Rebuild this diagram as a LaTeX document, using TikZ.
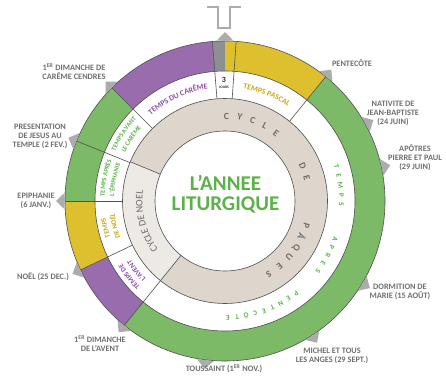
\documentclass[tikz,border=0pt]{standalone}
\usepackage{fontspec}
\setmainfont{Carlito}
\usetikzlibrary{decorations.text}
\definecolor{cpurple}{RGB}{153,108,173}
\definecolor{cgreen}{RGB}{125,186,104}
\definecolor{cyellow}{RGB}{222,191,46}
\definecolor{cgrayseg}{RGB}{142,143,146}
\definecolor{cbeige}{RGB}{222,214,204}
\definecolor{clbeige}{RGB}{237,233,229}
\definecolor{cline}{RGB}{80,80,80}
\definecolor{tpurple}{RGB}{140,78,166}
\definecolor{tgreen}{RGB}{92,178,72}
\definecolor{tgold}{RGB}{204,168,28}
\definecolor{tgray}{RGB}{112,112,112}
\definecolor{cmark}{RGB}{172,172,172}
\definecolor{tcycle}{RGB}{108,108,108}
\newcommand\ringsect[5]{\fill[#1] (#2:#4) arc[start angle=#2,end angle=#3,radius=#4] -- (#3:#5) arc[start angle=#3,end angle=#2,radius=#5] -- cycle;}
\newcommand\arctext[6]{\path[decorate,decoration={text along path,text align=center,text color=#1,text={|\fontsize{#2}{#2}\selectfont\bfseries|#6}}] (#3:#5) arc[start angle=#3,end angle=#4,radius=#5];}
\begin{document}
\begin{tikzpicture}[x=1pt,y=1pt,
  lbl/.style={text=tgray,font=\fontsize{8.3}{9}\selectfont\bfseries,align=center,inner sep=0pt},
  ring/.style={draw=cline,line width=0.6pt},
  sep/.style={draw=cline,line width=0.6pt},
  cyc/.style={text=tcycle,font=\fontsize{9.5}{9.5}\selectfont\bfseries,inner sep=0pt},
  tap/.style={text=tgreen,font=\fontsize{7.2}{7.2}\selectfont\bfseries,inner sep=0pt},
  title/.style={text=tgreen,font=\fontsize{21}{21}\selectfont\bfseries,inner sep=0pt}]
\useasboundingbox (0,0) rectangle (446,381);
\fill[white] (0,0) rectangle (446,381);
\begin{scope}[shift={(225,180)}]
  % outer ring
  \ringsect{cgrayseg}{94.5}{90}{160}{130}
  \ringsect{cyellow}{90}{51}{160}{130}
  \ringsect{cgreen}{51}{-129}{160}{130}
  \ringsect{cpurple}{-129}{-154.5}{160}{130}
  \ringsect{cyellow}{-154.5}{-180}{160}{130}
  \ringsect{cgreen}{180}{135}{160}{130}
  \ringsect{cpurple}{135}{94.5}{160}{130}
  % beige ring
  \fill[cbeige,even odd rule] (0,0) circle[radius=102.5] (0,0) circle[radius=70];
  \ringsect{clbeige}{231}{157.5}{102.5}{70}
  % circles
  \foreach \r in {160,130,102.5,70} \draw[ring] (0,0) circle[radius=\r];
  % separators
  \foreach \a in {135,158,180,205.5,231,51,94.5,86} \draw[sep] (\a:102.5) -- (\a:160);
  \foreach \a in {157.5,231} \draw[sep] (\a:70) -- (\a:102.5);
  % markers
  \foreach \a in {90,51,28.6,12.2,-31,-57,-97,231,205.5,180,158,135}
    \fill[cmark] (\a+3:160.5) -- (\a:169) -- (\a-3:160.5) -- cycle;
  % cycle de paques
  \foreach \a/\c [count=\i] in {89/C,80/Y,71/C,62/L,53/E,24/D,16/E,-17/P,-25/Â,-33/Q,-41/U,-50/E,-59/S}
    \node[cyc,rotate=\a-90] (cp\i) at (\a:85) {\c};
  % temps apres pentecote
  \foreach \a/\c [count=\i] in {17/T,12.3/E,7.6/M,2.9/P,-1.8/S,-19/A,-23.5/P,-28/R,-32.5/E,-37/S,-52.5/P,-57/E,-61.5/N,-66/T,-70.5/E,-75/C,-79.5/Ô,-84/T,-88.5/E}
    \node[tap,rotate=\a-90] (tp\i) at (\a:116.5) {\c};
  % section texts
  \arctext{tpurple}{7.8}{135}{94.5}{113.5}{TEMPS DU CARÊME}
  \arctext{tgold}{7.8}{86}{51}{113.5}{TEMPS PASCAL}
  \arctext{tgreen}{6.4}{158}{135}{120.5}{TEMPS AVANT}
  \arctext{tgreen}{6.4}{158}{135}{111}{LE CARÊME}
  \arctext{tgreen}{6.4}{180}{158}{120.5}{TEMPS APRÈS}
  \arctext{tgreen}{6.4}{180}{158}{111}{L'ÉPIPHANIE}
  \arctext{tgold}{7}{205.5}{180}{120.5}{TEMPS}
  \arctext{tgold}{7}{205.5}{180}{111}{DE NOËL}
  \arctext{tpurple}{7}{231}{205.5}{120.5}{TEMPS DE}
  \arctext{tpurple}{7}{231}{205.5}{111}{L'AVENT}
  \path[decorate,decoration={text along path,text align=center,text color=tcycle,text={|\fontsize{10}{10}\selectfont|CYCLE DE NOEL}}] (231:82.5) arc[start angle=231,end angle=157.5,radius=82.5];
\end{scope}
% top bracket
\draw[cmark,line width=1.2pt] (207,374) -- (218,374) -- (218,353) -- (230,353) -- (230,374) -- (241,374);
% 3 jours
\node[inner sep=0pt,text={rgb,255:red,40;green,40;blue,40},font=\fontsize{8}{8}\selectfont\bfseries] (trois) at (224,301) {3};
\node[inner sep=0pt,text={rgb,255:red,40;green,40;blue,40},font=\fontsize{3.6}{3.6}\selectfont\bfseries] (jours) at (224,293.5) {JOURS};
% title
\node[title] (t1) at (225.5,198.5) {L'ANNEE};
\node[title] (t2) at (225.5,176.5) {LITURGIQUE};
% labels
\node[lbl] (pent) at (352,318) {PENTECÔTE};
\node[lbl] (nat) at (393,268) {NATIVITE DE\\JEAN-BAPTISTE\\(24 JUIN)};
\node[lbl] (apo) at (415,223) {APÔTRES\\PIERRE ET PAUL\\(29 JUIN)};
\node[lbl] (dorm) at (400,89) {DORMITION DE\\MARIE (15 AOÛT)};
\node[lbl] (mich) at (332,25) {MICHEL ET TOUS\\LES ANGES (29 SEPT.)};
\node[lbl] (tous) at (224,12) {TOUSSAINT (1\textsuperscript{ER} NOV.)};
\node[lbl] (avent) at (100,37) {1\textsuperscript{ER} DIMANCHE\\DE L'AVENT};
\node[lbl] (noel) at (43,104) {NOËL (25 DEC.)};
\node[lbl] (epi) at (36,180) {EPIPHANIE\\(6 JANV.)};
\node[lbl] (pres) at (40,245) {PRESENTATION\\DE JESUS AU\\TEMPLE (2 FEV.)};
\node[lbl] (car) at (74,309) {1\textsuperscript{ER} DIMANCHE DE\\CARÊME CENDRES};
\end{tikzpicture}
\end{document}
